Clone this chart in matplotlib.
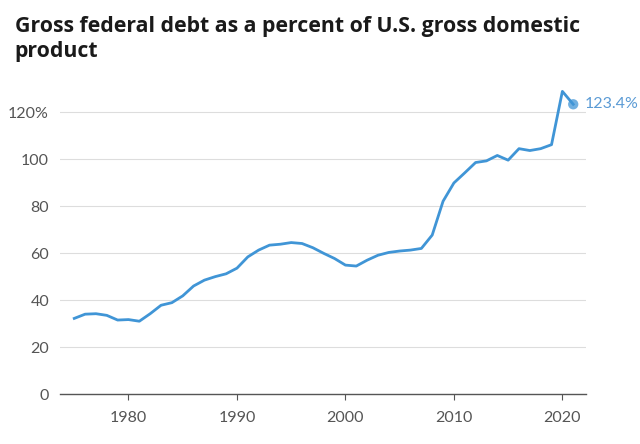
import matplotlib.pyplot as plt
import numpy as np

plt.rcParams['font.family'] = ['Lato', 'DejaVu Sans']

years = list(range(1975, 2022))
debt_pct = [32.2, 34.0, 34.2, 33.5, 31.5, 31.7, 31.0, 34.2, 37.8, 38.9, 41.8, 46.0,
            48.5, 50.0, 51.2, 53.6, 58.4, 61.3, 63.4, 63.8, 64.5, 64.1, 62.3, 59.9,
            57.7, 54.9, 54.5, 57.0, 59.1, 60.3, 60.9, 61.3, 62.0, 67.7, 82.1, 89.9,
            94.2, 98.6, 99.3, 101.6, 99.6, 104.5, 103.7, 104.5, 106.2, 128.9, 123.4]
last_label = '123.4%'
title = 'Gross federal debt as a percent of U.S. gross domestic\nproduct'

line_color = '#4095d6'
text_color = '#555555'

fig = plt.figure(figsize=(6.4, 4.44), dpi=100)
ax = fig.add_axes([0.094, 0.1126, 0.822, 0.698])

ax.plot(years, debt_pct, color=line_color, lw=2.0, solid_joinstyle='round', zorder=3)
# highlight last point
ax.scatter([years[-1]], [debt_pct[-1]], s=55, color=line_color, alpha=0.75, zorder=4,
           edgecolors='none')
ax.annotate(last_label, (years[-1], debt_pct[-1]), xytext=(8, 0), textcoords='offset points',
            va='center', ha='left', color='#5b9bd5', fontsize=11.5, annotation_clip=False)

ax.set_xlim(1973.7, 2022.2)
ax.set_ylim(0, 132)
ax.set_xticks([1980, 1990, 2000, 2010, 2020])
ax.set_yticks(np.arange(0, 121, 20))
ax.set_yticklabels(['0', '20', '40', '60', '80', '100', '120%'])

ax.grid(axis='y', color='#dddddd', lw=0.8)
ax.set_axisbelow(True)
for s in ['top', 'right', 'left']:
    ax.spines[s].set_visible(False)
ax.spines['bottom'].set_color('#555555')
ax.spines['bottom'].set_linewidth(1.0)
ax.tick_params(axis='y', length=0, pad=8, labelsize=11.5, labelcolor=text_color)
ax.tick_params(axis='x', length=4, color='#555555', pad=8, labelsize=11.5, labelcolor=text_color)

fig.text(0.023, 0.965, title, fontsize=15.3, fontweight='bold', color='#1a1a1a',
         family=['Open Sans', 'DejaVu Sans'], va='top', ha='left', linespacing=1.25)

fig.savefig('out.png', dpi=100)
